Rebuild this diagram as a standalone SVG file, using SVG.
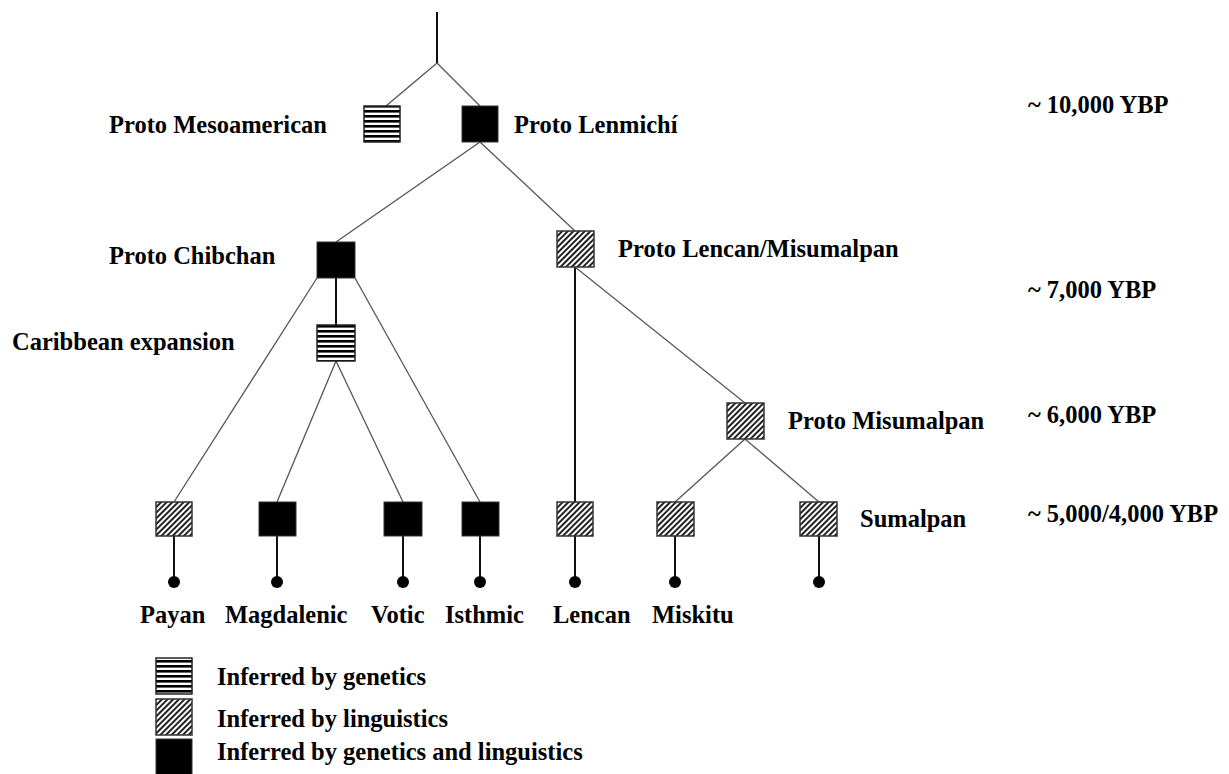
<svg xmlns="http://www.w3.org/2000/svg" width="1229" height="774" viewBox="0 0 1229 774">
<defs>
<pattern id="hstripe" patternUnits="userSpaceOnUse" width="8" height="5">
<rect width="8" height="5" fill="#fff"/>
<rect width="8" height="2.6" fill="#000"/>
</pattern>
<pattern id="diag" patternUnits="userSpaceOnUse" width="4" height="4" patternTransform="rotate(45)">
<rect width="4" height="4" fill="#fff"/>
<rect width="2" height="4" fill="#222"/>
</pattern>
</defs>
<style>
text{font-family:"Liberation Serif","Times New Roman",serif;font-weight:bold;font-size:24.5px;fill:#000}
.gen{fill:url(#hstripe);stroke:#222;stroke-width:1.5}
.ling{fill:url(#diag);stroke:#333;stroke-width:1.5}
.both{fill:#000;stroke:#333;stroke-width:1}
.br{stroke:#555;stroke-width:1.3;fill:none}
.st{stroke:#111;stroke-width:2;fill:none}
.dot{fill:#000}
</style>
<g id="connectors">
<line class="st" x1="437" y1="12" x2="437" y2="63"/>
<line class="br" x1="437" y1="63" x2="386" y2="106"/>
<line class="br" x1="437" y1="63" x2="480" y2="106"/>
<line class="br" x1="480" y1="142" x2="336" y2="242"/>
<line class="br" x1="480" y1="142" x2="575" y2="231"/>
<line class="st" x1="336" y1="278" x2="336" y2="325"/>
<line class="br" x1="317" y1="278" x2="174" y2="502"/>
<line class="br" x1="355" y1="278" x2="480" y2="502"/>
<line class="br" x1="336" y1="361" x2="277" y2="502"/>
<line class="br" x1="336" y1="361" x2="403" y2="502"/>
<line class="st" x1="575" y1="267" x2="575" y2="502"/>
<line class="br" x1="575" y1="267" x2="745" y2="403"/>
<line class="br" x1="745" y1="439" x2="675" y2="502"/>
<line class="br" x1="745" y1="439" x2="819" y2="502"/>
<line class="st" x1="174" y1="536" x2="174" y2="582"/>
<line class="st" x1="277" y1="536" x2="277" y2="582"/>
<line class="st" x1="403" y1="536" x2="403" y2="582"/>
<line class="st" x1="480" y1="536" x2="480" y2="582"/>
<line class="st" x1="575" y1="536" x2="575" y2="582"/>
<line class="st" x1="675" y1="536" x2="675" y2="582"/>
<line class="st" x1="819" y1="536" x2="819" y2="582"/>
</g>
<g id="proto-mesoamerican"><rect class="gen" x="364" y="106" width="36" height="36"/><text x="109" y="133">Proto Mesoamerican</text></g>
<g id="proto-lenmichi"><rect class="both" x="462" y="106" width="36" height="36"/><text x="514" y="133">Proto Lenmichí</text></g>
<g id="proto-chibchan"><rect class="both" x="317" y="242" width="38" height="36"/><text x="109" y="264">Proto Chibchan</text></g>
<g id="proto-lencan-misumalpan"><rect class="ling" x="557" y="231" width="37" height="36"/><text x="618" y="257">Proto Lencan/Misumalpan</text></g>
<g id="caribbean-expansion"><rect class="gen" x="317" y="325" width="38" height="36"/><text x="12" y="350">Caribbean expansion</text></g>
<g id="proto-misumalpan"><rect class="ling" x="727" y="403" width="37" height="36"/><text x="788" y="429">Proto Misumalpan</text></g>
<g id="payan"><rect class="ling" x="156" y="502" width="36" height="34"/><circle class="dot" cx="174" cy="582" r="6"/><text x="140" y="623">Payan</text></g>
<g id="magdalenic"><rect class="both" x="259" y="502" width="37" height="34"/><circle class="dot" cx="277" cy="582" r="6"/><text x="225" y="623">Magdalenic</text></g>
<g id="votic"><rect class="both" x="384" y="502" width="38" height="34"/><circle class="dot" cx="403" cy="582" r="6"/><text x="371" y="623">Votic</text></g>
<g id="isthmic"><rect class="both" x="462" y="502" width="37" height="34"/><circle class="dot" cx="480" cy="582" r="6"/><text x="445" y="623">Isthmic</text></g>
<g id="lencan"><rect class="ling" x="557" y="502" width="36" height="34"/><circle class="dot" cx="575" cy="582" r="6"/><text x="553" y="623">Lencan</text></g>
<g id="miskitu"><rect class="ling" x="657" y="502" width="37" height="34"/><circle class="dot" cx="675" cy="582" r="6"/><text x="652" y="623">Miskitu</text></g>
<g id="sumalpan"><rect class="ling" x="800" y="502" width="37" height="34"/><circle class="dot" cx="819" cy="582" r="6"/><text x="860" y="527">Sumalpan</text></g>
<g id="timescale">
<text x="1028" y="113">~ 10,000 YBP</text>
<text x="1028" y="298">~ 7,000 YBP</text>
<text x="1028" y="423">~ 6,000 YBP</text>
<text x="1028" y="522">~ 5,000/4,000 YBP</text>
</g>
<g id="legend">
<rect class="gen" x="156" y="658" width="36" height="36"/><text x="217" y="685">Inferred by genetics</text>
<rect class="ling" x="156" y="699" width="36" height="36"/><text x="217" y="727">Inferred by linguistics</text>
<rect class="both" x="156" y="739" width="36" height="36"/><text x="217" y="760">Inferred by genetics and linguistics</text>
</g>
</svg>
